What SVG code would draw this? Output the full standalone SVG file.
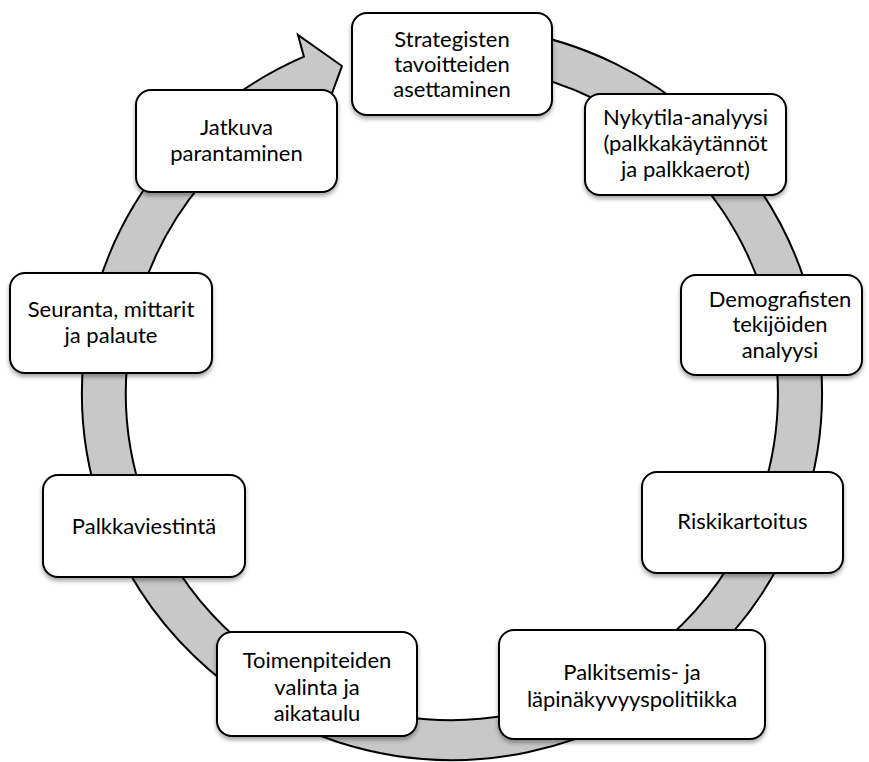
<svg xmlns="http://www.w3.org/2000/svg" width="869" height="762" viewBox="0 0 869 762">
<defs>
<filter id="sh" x="-10%" y="-10%" width="120%" height="130%">
<feDropShadow dx="0" dy="3" stdDeviation="2" flood-color="#000" flood-opacity="0.35"/>
</filter>
<style>
.box{fill:#fff;stroke:#000;stroke-width:2;filter:url(#sh)}
.lbl{font-family:Lato,"Liberation Sans",sans-serif;font-size:22px;fill:#000;text-anchor:middle}
.ring{fill:#c8c8c8;stroke:#000;stroke-width:2;stroke-linejoin:miter}
</style>
</defs>
<rect width="869" height="762" fill="#fff"/>
<g id="connectors">
<path class="ring" d="M452,26 A370,367 0 1 1 303.9,56.7 L298,35 L342,66 L325,112 L321.5,93.3 A326,327 0 1 0 452,66 Z"/>
</g>
<g id="n1"><rect class="box" x="352" y="13" width="200" height="102" rx="15"/>
<text class="lbl" x="452" y="47">Strategisten</text><text class="lbl" x="452" y="72">tavoitteiden</text><text class="lbl" x="452" y="97">asettaminen</text></g>
<g id="n2"><rect class="box" x="585" y="94" width="201" height="101" rx="15"/>
<text class="lbl" x="685.5" y="125">Nykytila-analyysi</text><text class="lbl" x="685.5" y="151">(palkkakäytännöt</text><text class="lbl" x="685.5" y="177">ja palkkaerot)</text></g>
<g id="n3"><rect class="box" x="681" y="275" width="181" height="100" rx="15"/>
<text class="lbl" x="780" y="307">Demografisten</text><text class="lbl" x="780" y="332">tekijöiden</text><text class="lbl" x="780" y="358">analyysi</text></g>
<g id="n4"><rect class="box" x="642" y="472" width="201" height="101" rx="15"/>
<text class="lbl" x="742.5" y="529">Riskikartoitus</text></g>
<g id="n5"><rect class="box" x="499" y="630" width="266" height="109" rx="15"/>
<text class="lbl" x="632" y="680">Palkitsemis- ja</text><text class="lbl" x="632" y="707">läpinäkyvyyspolitiikka</text></g>
<g id="n6"><rect class="box" x="217" y="632" width="200" height="104" rx="15"/>
<text class="lbl" x="317" y="668">Toimenpiteiden</text><text class="lbl" x="317" y="695">valinta ja</text><text class="lbl" x="317" y="721">aikataulu</text></g>
<g id="n7"><rect class="box" x="43" y="475" width="202" height="102" rx="15"/>
<text class="lbl" x="144" y="534">Palkkaviestintä</text></g>
<g id="n8"><rect class="box" x="10" y="273" width="202" height="100" rx="15"/>
<text class="lbl" x="111" y="317">Seuranta, mittarit</text><text class="lbl" x="111" y="343">ja palaute</text></g>
<g id="n9"><rect class="box" x="136" y="90" width="201" height="102" rx="15"/>
<text class="lbl" x="236.5" y="135">Jatkuva</text><text class="lbl" x="236.5" y="161">parantaminen</text></g>
</svg>
